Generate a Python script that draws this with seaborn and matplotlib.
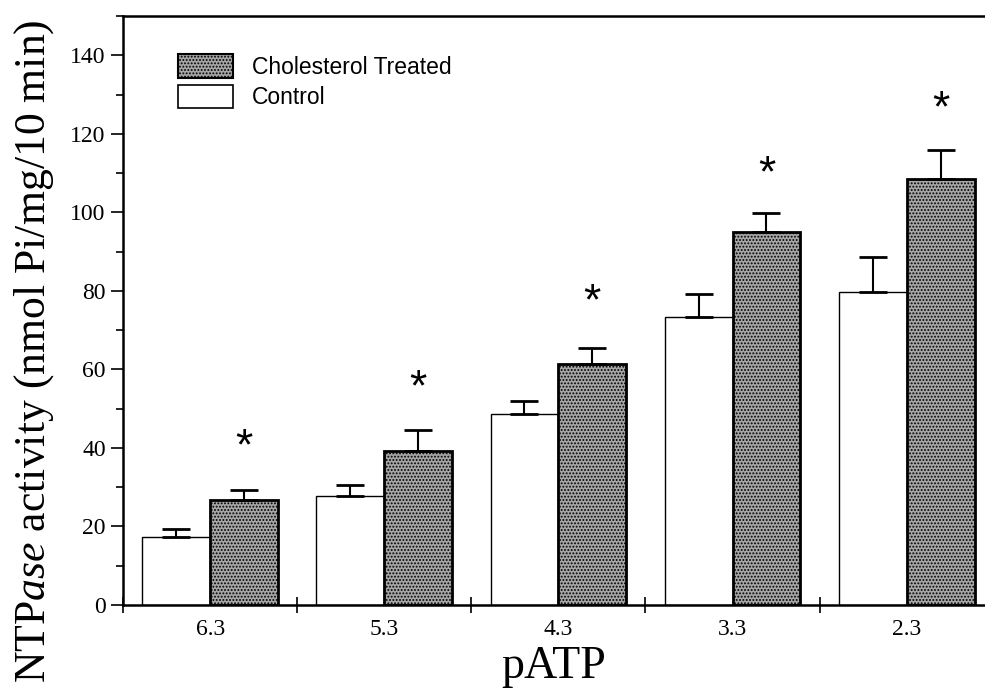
import matplotlib
matplotlib.use("Agg")
import matplotlib.pyplot as plt
from matplotlib.ticker import MultipleLocator, FixedLocator
from matplotlib.patches import Patch
import seaborn as sns
import pandas as pd
import numpy as np

# ========================================
# Data
# ========================================
patp = ['6.3', '5.3', '4.3', '3.3', '2.3']
groups = ['Control', 'Cholesterol Treated']

control_mean = [17.4, 27.6, 48.6, 73.4, 79.8]
control_sem = [1.8, 2.8, 3.3, 5.9, 8.9]
treated_mean = [26.6, 39.1, 61.4, 95.1, 108.4]
treated_sem = [2.6, 5.4, 4.1, 4.6, 7.5]
star_y = [40, 55, 77, 109.5, 126]

df = pd.DataFrame({
    'pATP': patp * 2,
    'group': [groups[0]] * len(patp) + [groups[1]] * len(patp),
    'mean': control_mean + treated_mean,
    'sem': control_sem + treated_sem,
})

treated_fill = '#a6a6a6'

# ========================================
# Style
# ========================================
sns.set_style('ticks')
plt.rcParams['font.family'] = ['Liberation Serif', 'DejaVu Serif']
plt.rcParams['mathtext.fontset'] = 'custom'
plt.rcParams['mathtext.rm'] = 'Liberation Serif'
plt.rcParams['mathtext.it'] = 'Liberation Serif:italic'
plt.rcParams['hatch.linewidth'] = 0.9
for key in ['text.color', 'axes.labelcolor', 'xtick.color', 'ytick.color']:
    plt.rcParams[key] = 'black'

# ========================================
# Plot
# ========================================
fig = plt.figure(figsize=(9.85, 6.96), dpi=100)
ax = fig.add_axes([0.125, 0.131, 0.875, 0.846])

sns.barplot(data=df, x='pATP', y='mean', hue='group', order=patp, hue_order=groups,
            palette={'Control': 'white', 'Cholesterol Treated': treated_fill},
            width=0.78, gap=0, errorbar=None, ax=ax, legend=False)

n = len(patp)
bars = ax.patches[:2 * n]
for i, bar in enumerate(bars):
    bar.set_edgecolor('black')
    if i < n:
        bar.set_linewidth(1.0)
    else:
        bar.set_linewidth(2.0)
        bar.set_hatch('.....')

# upper error bars only
for i, bar in enumerate(bars):
    xc = bar.get_x() + bar.get_width() / 2
    m = df['mean'].iloc[i]
    s = df['sem'].iloc[i]
    ax.errorbar(xc, m, yerr=[[0], [s]], fmt='none', ecolor='black',
                elinewidth=1.5, capsize=10, capthick=2.0)

# significance stars over treated bars
for i, bar in enumerate(bars[n:]):
    xc = bar.get_x() + bar.get_width() / 2
    ax.text(xc, star_y[i], '*', ha='center', va='center', fontsize=32,
            family='Liberation Sans')

# legend
handles = [Patch(facecolor=treated_fill, edgecolor='black', hatch='.....', linewidth=1.5,
                 label='Cholesterol Treated'),
           Patch(facecolor='white', edgecolor='black', linewidth=1.2, label='Control')]
ax.legend(handles=handles, loc='upper left', bbox_to_anchor=(0.04, 0.97), frameon=False,
          prop={'family': 'Liberation Sans', 'size': 16.5}, handlelength=2.4,
          handleheight=1.2, handletextpad=0.8, labelspacing=0.25)

# axes
ax.set_xlim(-0.5, 4.45)
ax.set_ylim(0, 150)
ax.yaxis.set_major_locator(FixedLocator(np.arange(0, 141, 20)))
ax.yaxis.set_minor_locator(MultipleLocator(10))
ax.xaxis.set_minor_locator(FixedLocator([-0.5, 0.5, 1.5, 2.5, 3.5]))
ax.tick_params(axis='x', which='major', length=0, labelsize=17, pad=10)
ax.tick_params(axis='x', which='minor', direction='inout', length=12, width=1.2)
ax.tick_params(axis='y', which='major', direction='out', length=9, width=1.2, labelsize=17)
ax.tick_params(axis='y', which='minor', direction='out', length=5, width=1.2)

for side in ['left', 'bottom', 'top']:
    ax.spines[side].set_linewidth(1.8)
    ax.spines[side].set_color('black')
ax.spines['right'].set_visible(False)

ax.set_xlabel('pATP', fontsize=33, labelpad=4)
ax.set_ylabel(r'NTP$\it{ase}$ activity (nmol Pi/mg/10 min)', fontsize=31.5, va='center')
ax.yaxis.set_label_coords(-0.103, 0.431)

plt.savefig('out.png', dpi=100)
